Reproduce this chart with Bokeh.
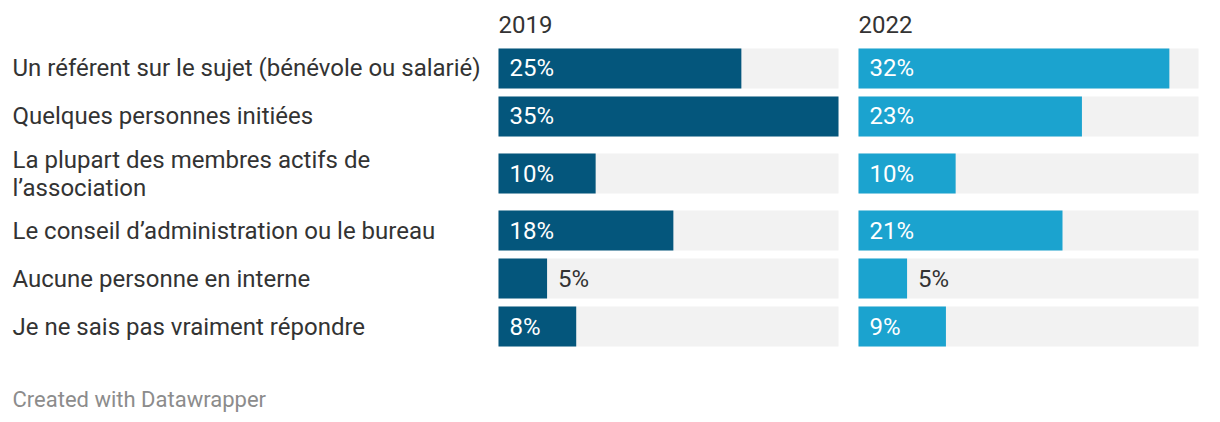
from bokeh.plotting import figure
from bokeh.models import FactorRange, Range1d, ColumnDataSource, Title
from bokeh.core.properties import value
from bokeh.embed import file_html
from bokeh.resources import INLINE

# ---- data ----
categories = [
    "Un référent sur le sujet (bénévole ou salarié)",
    "Quelques personnes initiées",
    "La plupart des membres actifs de\nl’association",
    "Le conseil d’administration ou le bureau",
    "Aucune personne en interne",
    "Je ne sais pas vraiment répondre",
]
row_groups = ["a", "a", "b", "c", "c", "c"]
values_2019 = [25, 35, 10, 18, 5, 8]
values_2022 = [32, 23, 10, 21, 5, 9]
years = ["2019", "2022"]
scale_max = 35
footer = "Created with Datawrapper"

# ---- style / layout ----
FONT = "Roboto"
W, H = 1220, 422
PANEL_PX = 340
PX = PANEL_PX / scale_max          # pixels per percent
LEFT_PX = 498                       # label column width
GAP = 20 / PX                       # gap between panels in percent units
OFFSETS = [0, scale_max + GAP]
COLORS = ["#04567c", "#1ba3cf"]
BG = "#f2f2f2"
TEXT = "#333333"
ROW_PX = 48
FS = "24px"

factors = [(g, c) for g, c in zip(row_groups, categories)]
y_range = FactorRange(factors=list(reversed(factors)), group_padding=0.19,
                      range_padding=0.9167, range_padding_units="absolute")
x_range = Range1d(-LEFT_PX / PX, (W - LEFT_PX) / PX)

p = figure(width=W, height=H, x_range=x_range, y_range=y_range,
           output_backend="svg", toolbar_location=None,
           x_axis_location=None, y_axis_location=None,
           min_border_left=0, min_border_right=0, min_border_top=0,
           min_border_bottom=28)
p.outline_line_color = None
p.xgrid.visible = False
p.ygrid.visible = False
p.background_fill_color = "white"
p.border_fill_color = "white"

bar_h = 40 / ROW_PX

for vals, off, col in zip([values_2019, values_2022], OFFSETS, COLORS):
    src = ColumnDataSource(dict(
        y=factors,
        left=[off] * len(vals),
        right=[off + v for v in vals],
        full=[off + scale_max] * len(vals),
    ))
    p.hbar(y="y", left="left", right="full", height=bar_h, source=src,
           fill_color=BG, line_color=None)
    p.hbar(y="y", left="left", right="right", height=bar_h, source=src,
           fill_color=col, line_color=None)
    inside = [i for i, v in enumerate(vals) if v * PX >= 60]
    outside = [i for i, v in enumerate(vals) if v * PX < 60]
    if inside:
        p.text(x=[off] * len(inside), y=[factors[i] for i in inside],
               text=[f"{vals[i]}%" for i in inside],
               x_offset=11, text_align="left", text_baseline="middle",
               text_font=value(FONT), text_font_size=FS, text_color="white")
    if outside:
        p.text(x=[off + vals[i] for i in outside], y=[factors[i] for i in outside],
               text=[f"{vals[i]}%" for i in outside],
               x_offset=11, text_align="left", text_baseline="middle",
               text_font=value(FONT), text_font_size=FS, text_color=TEXT)

# year headers
p.text(x=OFFSETS, y=[factors[0]] * 2, text=years, y_offset=-44,
       text_align="left", text_baseline="middle",
       text_font=value(FONT), text_font_size=FS, text_color=TEXT)

# category labels
p.text(x=[x_range.start] * len(categories), y=factors, text=categories,
       x_offset=12, text_align="left", text_baseline="middle",
       text_font=value(FONT), text_font_size=FS, text_color=TEXT,
       text_line_height=1.0)

p.add_layout(Title(text=footer, align="left", offset=12, standoff=-15,
                   vertical_align="top",
                   text_font=FONT, text_font_size="22px", text_color="#8c8c8c",
                   text_font_style="normal"), "below")

open("out.html", "w").write(file_html(p, INLINE))
